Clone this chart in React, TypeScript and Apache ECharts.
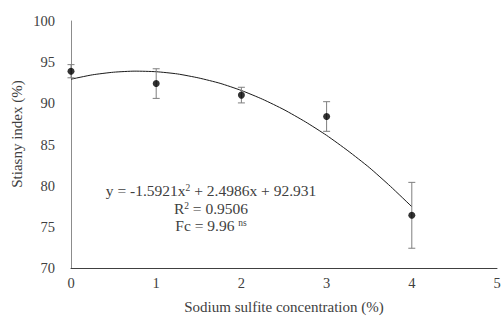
import React, { useEffect, useRef } from "react";
import * as echarts from "echarts";

const concentrations = [0, 1, 2, 3, 4];
const stiasnyMeans = [93.9, 92.4, 91.0, 88.4, 76.4];
const stiasnyErrors = [0.8, 1.8, 0.95, 1.8, 4.0];
const trendX = [0, 0.25, 0.5, 0.75, 1, 1.25, 1.5, 1.75, 2, 2.25, 2.5, 2.75, 3, 3.25, 3.5, 3.75, 4];
const trendY = [92.93, 93.46, 93.78, 93.91, 93.84, 93.57, 93.08, 92.43, 91.56, 90.49, 89.23, 87.76, 86.11, 84.24, 82.21, 79.91, 77.45];
const yTicks = [70, 75, 80, 85, 90, 95, 100];
const xTicks = [0, 1, 2, 3, 4, 5];

const FONT = "'Liberation Serif', 'Times New Roman', serif";
const TEXT = "#404040";

export default function App() {
  const ref = useRef<HTMLDivElement>(null);
  useEffect(() => {
    if (!ref.current) return;
    const chart = echarts.init(ref.current, null, { renderer: "svg" });
    const grid = { left: 71, right: 6, top: 21, bottom: 49, containLabel: false, outerBoundsMode: "none" };
    chart.setOption({
      animation: false,
      backgroundColor: "#ffffff",
      textStyle: { fontFamily: FONT },
      grid,
      xAxis: {
        type: "value",
        min: xTicks[0],
        max: xTicks[xTicks.length - 1],
        interval: 1,
        name: "Sodium sulfite concentration (%)",
        nameLocation: "middle",
        nameGap: 31,
        nameTextStyle: { fontFamily: FONT, fontSize: 15, color: TEXT },
        axisLine: { lineStyle: { color: "#404040", width: 1 } },
        axisTick: { show: false },
        splitLine: { show: false },
        axisLabel: { fontFamily: FONT, fontSize: 14.5, color: TEXT, margin: 7, showMaxLabel: true, hideOverlap: false },
      },
      yAxis: {
        type: "value",
        min: yTicks[0],
        max: yTicks[yTicks.length - 1],
        interval: 5,
        axisLine: { show: true, lineStyle: { color: "#8c8c8c", width: 1 } },
        axisTick: { show: false },
        splitLine: { show: false },
        axisLabel: { fontFamily: FONT, fontSize: 14.5, color: TEXT, margin: 16 },
      },
      graphic: [
        {
          type: "text",
          x: 17,
          y: 134,
          rotation: Math.PI / 2,
          style: {
            text: "Stiasny index (%)",
            fontFamily: FONT,
            fontSize: 15,
            fill: TEXT,
            align: "center",
            verticalAlign: "middle",
          },
        },
        {
          type: "text",
          x: 211,
          y: 208,
          style: {
            text: "{n|y = -1.5921x}{sup|2}{n| + 2.4986x + 92.931}\n{n|R}{sup|2}{n| = 0.9506}\n{n|Fc = 9.96 }{sup|ns}",
            fontFamily: FONT,
            fontSize: 15.5,
            fill: TEXT,
            align: "center",
            verticalAlign: "middle",
            lineHeight: 17.5,
            rich: {
              n: { fontFamily: FONT, fontSize: 15.5, fill: TEXT, lineHeight: 17.5 },
              sup: { fontFamily: FONT, fontSize: 9.5, fill: TEXT, lineHeight: 17.5, padding: [0, 0, 5, 0] },
            },
          },
        },
      ],
      series: [
        {
          type: "line",
          data: trendX.map((x, i) => [x, trendY[i]]),
          smooth: 0.2,
          showSymbol: false,
          symbol: "none",
          lineStyle: { color: "#1a1a1a", width: 1 },
          z: 2,
        },
        {
          type: "custom",
          data: concentrations.map((x, i) => [x, stiasnyMeans[i], stiasnyErrors[i]]),
          renderItem: (params: any, api: any) => {
            const x = api.value(0);
            const m = api.value(1);
            const e = api.value(2);
            const top = api.coord([x, m + e]);
            const bot = api.coord([x, m - e]);
            const w = 3.5;
            const style = { stroke: "#7f7f7f", lineWidth: 1 };
            return {
              type: "group",
              children: [
                { type: "line", shape: { x1: top[0], y1: top[1], x2: bot[0], y2: bot[1] }, style },
                { type: "line", shape: { x1: top[0] - w, y1: top[1], x2: top[0] + w, y2: top[1] }, style },
                { type: "line", shape: { x1: bot[0] - w, y1: bot[1], x2: bot[0] + w, y2: bot[1] }, style },
              ],
            };
          },
          z: 3,
        },
        {
          type: "scatter",
          data: concentrations.map((x, i) => [x, stiasnyMeans[i]]),
          symbol: "circle",
          symbolSize: 7,
          itemStyle: { color: "#000000" },
          z: 4,
        },
      ],
    });
    return () => chart.dispose();
  }, []);
  return <div ref={ref} style={{ position: "fixed", left: 0, top: 0, width: 503, height: 317 }} />;
}
